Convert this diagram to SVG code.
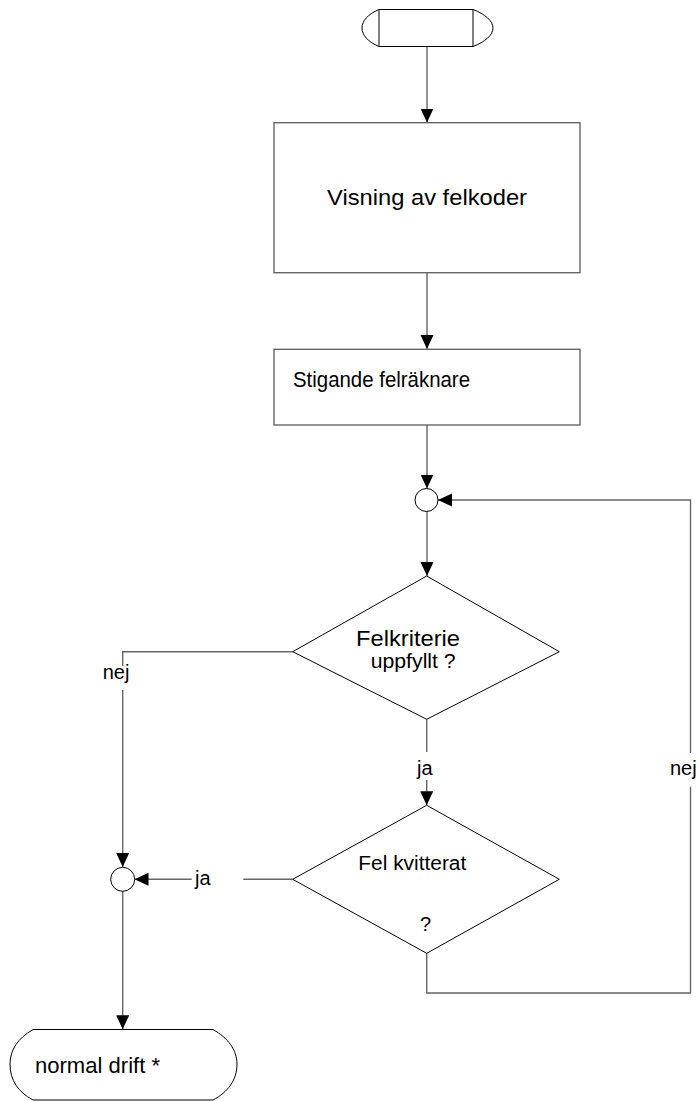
<svg xmlns="http://www.w3.org/2000/svg" width="696" height="1101" viewBox="0 0 696 1101">
  <style>
    .box { fill: #fff; stroke: #666; stroke-width: 1.4; }
    .dia { fill: #fff; stroke: #000; stroke-width: 1; }
    .term { fill: #fff; stroke: #000; stroke-width: 1; }
    .jn { fill: #fff; stroke: #000; stroke-width: 1; }
    .wire { fill: none; stroke: #666; stroke-width: 1.4; }
    .arr { marker-end: url(#head); }
    text { font-family: "Liberation Sans", Arial, sans-serif; fill: #000; }
    .lbl { font-size: 20px; }
    .big { font-size: 22px; }
  </style>
  <defs>
    <marker id="head" markerUnits="userSpaceOnUse" markerWidth="15" markerHeight="14" refX="14" refY="6.5" orient="auto">
      <path d="M0,0 L14,6.5 L0,13 Z" fill="#000"/>
    </marker>
  </defs>

  <!-- connectors -->
  <g id="connectors">
    <path class="wire arr" d="M427,46.5 V122.5"/>
    <path class="wire arr" d="M427,272.7 V349"/>
    <path class="wire arr" d="M427,425 V488.5"/>
    <path class="wire arr" d="M427,511.5 V576"/>
    <!-- nej branch from first decision -->
    <path class="wire" d="M292.7,651.7 H122.7 V666"/>
    <path class="wire arr" d="M122.7,690 V867"/>
    <!-- ja branch from first decision -->
    <path class="wire" d="M426.7,719.3 V752"/>
    <path class="wire arr" d="M426.7,780 V805.3"/>
    <!-- ja branch from second decision -->
    <path class="wire" d="M292.7,879.3 H243.3"/>
    <path class="wire arr" d="M191.7,879.3 H134.5"/>
    <!-- to end terminal -->
    <path class="wire arr" d="M122.7,891 V1029.3"/>
    <!-- nej loop back -->
    <path class="wire" d="M426.7,953.3 V993 H690.5 V786.7"/>
    <path class="wire arr" d="M690.5,753 V500 H438"/>
    <text class="lbl" x="102.7" y="679">nej</text>
    <text class="lbl" x="417" y="775">ja</text>
    <text class="lbl" x="195" y="885">ja</text>
    <text class="lbl" x="670" y="775">nej</text>
  </g>

  <g id="start">
    <path class="term" d="M379,9.5 H473 C485,14 493,21 493,28 C493,35 485,42 473,46.5 H379 C368,42 362,35 362,28 C362,21 368,14 379,9.5 Z"/>
    <path class="term" d="M379,9.5 V46.5 M473,9.5 V46.5"/>
  </g>

  <g id="visning">
    <rect class="box" x="274" y="122.7" width="306" height="150"/>
    <text class="big" x="327" y="205" textLength="200" lengthAdjust="spacingAndGlyphs">Visning av felkoder</text>
  </g>

  <g id="stigande">
    <rect class="box" x="274" y="349.3" width="306" height="75.7"/>
    <text class="big" x="293" y="386.7" textLength="177" lengthAdjust="spacingAndGlyphs">Stigande felräknare</text>
  </g>

  <g id="junction1">
    <circle class="jn" cx="426.5" cy="500" r="11.5"/>
  </g>

  <g id="felkriterie">
    <polygon class="dia" points="426.7,576 559.3,651.7 426.7,719.3 292.7,651.7"/>
    <text class="big" x="356" y="646" textLength="104" lengthAdjust="spacingAndGlyphs">Felkriterie</text>
    <text class="lbl" x="370.7" y="668" textLength="85" lengthAdjust="spacingAndGlyphs">uppfyllt ?</text>
  </g>

  <g id="kvitterat">
    <polygon class="dia" points="426.7,805.3 559.3,879.3 426.7,953.3 292.7,879.3"/>
    <text class="lbl" x="358.3" y="870" textLength="108" lengthAdjust="spacingAndGlyphs">Fel kvitterat</text>
    <text class="lbl" x="420" y="931">?</text>
  </g>

  <g id="junction2">
    <circle class="jn" cx="122.7" cy="879.3" r="12"/>
  </g>

  <g id="normal-drift">
    <path class="term" d="M33,1029.5 H213 C228,1038 237,1050 237,1064 C237,1080 228,1092 213,1100 H33 C18,1092 10,1080 10,1064 C10,1050 18,1038 33,1029.5 Z"/>
    <text class="big" x="35" y="1073.3" textLength="125" lengthAdjust="spacingAndGlyphs">normal drift *</text>
  </g>
</svg>
